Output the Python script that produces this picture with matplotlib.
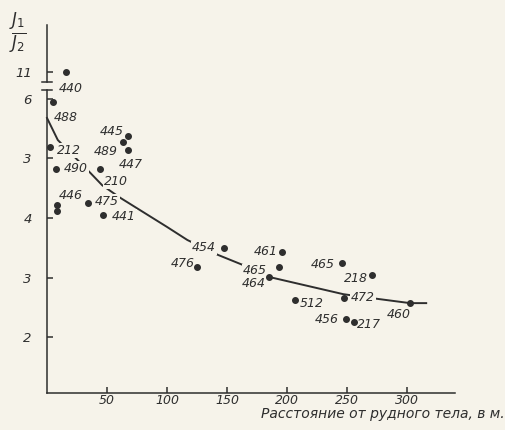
import numpy as np
import matplotlib.pyplot as plt

# sample numbers and measured values (distance, J1/J2)
samples = ['488', '212', '490', '446', '446', '475', '441', '210', '445', '489', '447',
           '454', '476', '461', '465', '464', '512', '465', '218', '472', '456', '217', '460']
dist = [5, 2.5, 7.5, 8.3, 8.3, 34, 46.7, 44, 67.5, 63, 67.5,
        147.5, 125, 196, 193, 185, 207, 246, 271, 247.5, 249, 256, 302.5]
ratio = [5.95, 5.2, 4.83, 4.22, 4.12, 4.25, 4.05, 4.83, 5.37, 5.27, 5.15,
         3.5, 3.18, 3.43, 3.18, 3.01, 2.62, 3.24, 3.04, 2.66, 2.3, 2.25, 2.57]

# the outlier drawn above the axis break
top_sample = '440'
top_dist = 15.8
top_ratio = 11.0

# smoothed trend line
trend_x = [0, 9, 36, 46, 61, 100, 117, 142.5, 167, 185, 247, 276, 302.5, 316]
trend_y = [5.68, 5.31, 4.76, 4.55, 4.34, 3.85, 3.63, 3.38, 3.18, 3.01, 2.72, 2.64, 2.57, 2.57]

xticks = [50, 100, 150, 200, 250, 300]
yticks = [2, 3, 4, 5, 6]
ytick_labels = ['2', '3', '4', '3', '6']

# label offsets from the dot, in pixels (right, down)
label_off = [(13, 16), (19, 4), (20, 0), (14, -9), None, (19, -2), (21, 1), (16, 13),
             (-16, -5), (-17, 9), (3, 15), (-20, 0), (-14, -3), (-16, 0), (-24, 4),
             (-15, 7), (16, 3), (-19, 1), (-16, 3), (19, 0), (-19, 0), (15, 2), (-11, 11)]

paper = '#f6f3ea'
ink = '#2e2e2e'
W, H = 506, 430

fig = plt.figure(figsize=(W / 100, H / 100), dpi=100, facecolor=paper)
ax = fig.add_axes([47 / W, 0.086, 408 / W, 0.7047])
ax_top = fig.add_axes([47 / W, 0.8093, 408 / W, 0.1326])

for a in (ax, ax_top):
    a.set_facecolor(paper)
    a.patch.set_alpha(0)
    a.set_xlim(0, 340)
    for s in ['top', 'right']:
        a.spines[s].set_visible(False)
    for s in ['left', 'bottom']:
        a.spines[s].set_color(ink)
        a.spines[s].set_linewidth(1.1)
    a.tick_params(direction='in', length=4, width=1.1, colors=ink,
                  labelsize=9.5, pad=11)

ax.set_ylim(1.06, 6.15)
ax_top.set_ylim(10.83, 11.79)
ax_top.spines['bottom'].set_visible(False)
ax_top.set_xticks([])

ax.set_xticks(xticks)
ax.set_xticklabels([str(t) for t in xticks], style='italic')
ax.tick_params(axis='x', pad=1, labelsize=9)
ax.set_yticks(yticks)
ax.set_yticklabels(ytick_labels, style='italic')
ax_top.set_yticks([11])
ax_top.set_yticklabels(['11'], style='italic')

# break caps on the y axis
ax.plot([-0.012, 0.012], [1, 1], color=ink, lw=1.1, transform=ax.transAxes, clip_on=False)
ax_top.plot([-0.012, 0.012], [0, 0], color=ink, lw=1.1, transform=ax_top.transAxes, clip_on=False)

ax.plot(trend_x, trend_y, color=ink, lw=1.4, zorder=1, clip_on=False)
ax.scatter(dist, ratio, s=16, color=ink, zorder=3, clip_on=False)
ax_top.scatter([top_dist], [top_ratio], s=16, color=ink, zorder=3)

box = dict(facecolor=paper, edgecolor='none', pad=0.5)
for name, x, y, off in zip(samples, dist, ratio, label_off):
    if off is None:
        continue
    ax.annotate(name, (x, y), xytext=(off[0] * 0.72, -off[1] * 0.72),
                textcoords='offset points', ha='center', va='center',
                fontsize=9, style='italic', color=ink, bbox=box, zorder=2)
ax_top.annotate(top_sample, (top_dist, top_ratio), xytext=(5 * 0.72, -17 * 0.72),
                textcoords='offset points', ha='center', va='center',
                fontsize=9, style='italic', color=ink, annotation_clip=False)

fig.text(0.998, 1 - 414 / H, 'Расстояние от рудного тела, в м.', ha='right', va='center',
         fontsize=10, style='italic', color=ink)
fig.text(0.036, 1 - 33 / H, r'$\frac{J_1}{J_2}$', ha='center', va='center',
         fontsize=17, color=ink)

fig.savefig('out.png', dpi=100, facecolor=paper)
